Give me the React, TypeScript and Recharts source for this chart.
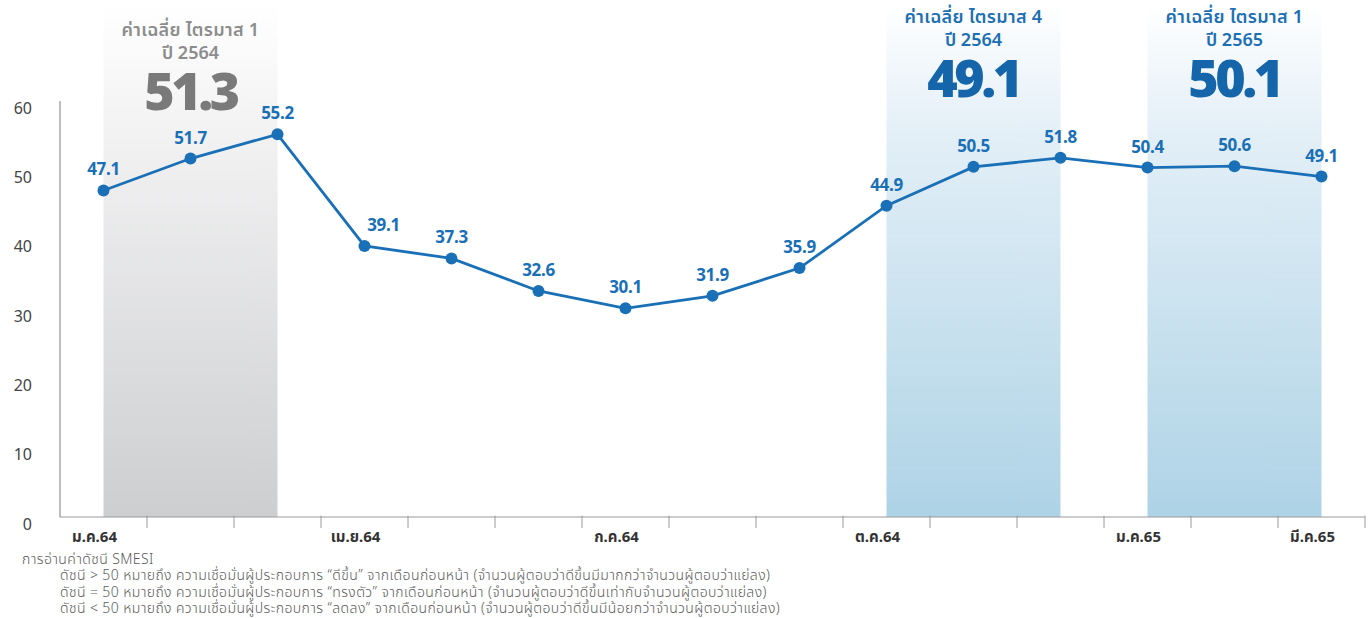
import { LineChart, Line, XAxis, YAxis, ReferenceArea, ReferenceLine, LabelList } from "recharts";

const months = [
  "ม.ค.64", "ก.พ.64", "มี.ค.64", "เม.ย.64", "พ.ค.64", "มิ.ย.64", "ก.ค.64", "ส.ค.64",
  "ก.ย.64", "ต.ค.64", "พ.ย.64", "ธ.ค.64", "ม.ค.65", "ก.พ.65", "มี.ค.65",
];
const smesi = [47.1, 51.7, 55.2, 39.1, 37.3, 32.6, 30.1, 31.9, 35.9, 44.9, 50.5, 51.8, 50.4, 50.6, 49.1];
const shownMonths = ["ม.ค.64", "เม.ย.64", "ก.ค.64", "ต.ค.64", "ม.ค.65", "มี.ค.65"];
const yTicks = [0, 10, 20, 30, 40, 50, 60];

// quarter average boxes
const quarterTitles = ["ค่าเฉลี่ย ไตรมาส 1", "ค่าเฉลี่ย ไตรมาส 4", "ค่าเฉลี่ย ไตรมาส 1"];
const quarterYears = ["ปี 2564", "ปี 2564", "ปี 2565"];
const quarterAverages = ["51.3", "49.1", "50.1"];
const quarterFrom = ["ม.ค.64", "ต.ค.64", "ม.ค.65"];
const quarterTo = ["มี.ค.64", "ธ.ค.64", "มี.ค.65"];

const footTitle = "การอ่านค่าดัชนี SMESI";
const footLines = [
  "ดัชนี > 50 หมายถึง ความเชื่อมั่นผู้ประกอบการ “ดีขึ้น” จากเดือนก่อนหน้า (จำนวนผู้ตอบว่าดีขึ้นมีมากกว่าจำนวนผู้ตอบว่าแย่ลง)",
  "ดัชนี = 50 หมายถึง ความเชื่อมั่นผู้ประกอบการ “ทรงตัว” จากเดือนก่อนหน้า (จำนวนผู้ตอบว่าดีขึ้นเท่ากับจำนวนผู้ตอบว่าแย่ลง)",
  "ดัชนี < 50 หมายถึง ความเชื่อมั่นผู้ประกอบการ “ลดลง” จากเดือนก่อนหน้า (จำนวนผู้ตอบว่าดีขึ้นมีน้อยกว่าจำนวนผู้ตอบว่าแย่ลง)",
];

const data = months.map((m, i) => ({ x: i, month: m, value: smesi[i] }));
const xTicks = shownMonths.map((m) => months.indexOf(m));
// tick marks sit between months
const boundaries = months.map((_, i) => i + 0.5);

const FONT = "'Noto Sans', 'Noto Sans Thai', sans-serif";
const BLUE = "#1a70b6";

const BandLabel = (props: any) => {
  const { viewBox, idx } = props;
  if (!viewBox) return null;
  const cx = viewBox.x + viewBox.width / 2;
  const gray = idx === 0;
  const top = viewBox.y + (gray ? 32 : 19);
  const txt = gray ? "#8c8c8c" : "#1c6fb4";
  const num = gray ? "#7a7a7a" : "#1565aa";
  return (
    <g fontFamily={FONT}>
      <text x={cx} y={top} textAnchor="middle" fontSize={18} fontWeight={600} fill={txt} letterSpacing={0.3}>
        {quarterTitles[idx]}
      </text>
      <text x={cx} y={top + 23} textAnchor="middle" fontSize={18} fontWeight={600} fill={txt}>
        {quarterYears[idx]}
      </text>
      <text x={cx} y={top + 74} textAnchor="middle" fontSize={52} fontWeight={900} fill={num} letterSpacing={-3.5}>
        {quarterAverages[idx]}
      </text>
    </g>
  );
};

// value label; pushed right when the line drops steeply into the point
const ValueLabel = (props: any) => {
  const { x, y, value, index } = props;
  const prev = index > 0 ? smesi[index - 1] : value;
  const dx = prev - value > 10 ? 19 : 0;
  return (
    <text
      x={x + dx}
      y={y - 15}
      textAnchor="middle"
      fill={BLUE}
      fontSize={17}
      fontWeight={700}
      fontFamily={FONT}
      letterSpacing={-0.3}
    >
      {Number(value).toFixed(1)}
    </text>
  );
};

export default function App() {
  return (
    <div style={{ position: "absolute", left: 0, top: 0, width: 1371, height: 618, background: "#fff" }}>
      <LineChart
        width={1371}
        height={552}
        data={data}
        margin={{ top: 101, right: 6, bottom: 0, left: 0 }}
      >
        <defs>
          <linearGradient id="grayBand" x1="0" y1="0" x2="0" y2="1">
            <stop offset="0%" stopColor="#ffffff" />
            <stop offset="25%" stopColor="#f2f2f3" />
            <stop offset="100%" stopColor="#cdced0" />
          </linearGradient>
          <linearGradient id="blueBand" x1="0" y1="0" x2="0" y2="1">
            <stop offset="0%" stopColor="#ffffff" />
            <stop offset="25%" stopColor="#e3eff7" />
            <stop offset="100%" stopColor="#aed3e6" />
          </linearGradient>
        </defs>
        {quarterFrom.map((from, i) => (
          <ReferenceArea
            key={i}
            x1={months.indexOf(from)}
            x2={months.indexOf(quarterTo[i])}
            y1={0}
            y2={74}
            ifOverflow="visible"
            fill={i === 0 ? "url(#grayBand)" : "url(#blueBand)"}
            fillOpacity={1}
            stroke="none"
            label={(p: any) => <BandLabel {...p} idx={i} />}
          />
        ))}
        <XAxis
          type="number"
          dataKey="x"
          domain={[-0.5, 14.5]}
          ticks={xTicks}
          interval={0}
          height={35}
          tickFormatter={(v: number) => months[v]}
          tickLine={false}
          tickMargin={8}
          axisLine={{ stroke: "#9a9a9a" }}
          tick={{ fill: "#333", fontSize: 15, fontWeight: 700, fontFamily: FONT, dx: -9 }}
        />
        <YAxis
          domain={[0, 60]}
          ticks={yTicks}
          width={60}
          tickLine={false}
          tickMargin={22}
          axisLine={{ stroke: "#7a7a7a" }}
          tick={{ fill: "#444", fontSize: 16, fontFamily: FONT, dy: 7 }}
        />
        {boundaries.map((b) => (
          <ReferenceLine
            key={b}
            segment={[{ x: b, y: 0.2 }, { x: b, y: -1.6 }]}
            ifOverflow="visible"
            stroke="#9a9a9a"
            strokeWidth={1}
          />
        ))}
        <Line
          type="linear"
          dataKey="value"
          stroke={BLUE}
          strokeWidth={2.8}
          dot={{ r: 6, fill: BLUE, stroke: "none" }}
          isAnimationActive={false}
        >
          <LabelList dataKey="value" content={<ValueLabel />} />
        </Line>
      </LineChart>
      <div
        style={{
          position: "absolute",
          left: 22,
          top: 551,
          fontFamily: FONT,
          fontSize: 14,
          letterSpacing: 0.4,
          lineHeight: "16.3px",
          color: "#5a5a5a",
          fontWeight: 300,
          whiteSpace: "nowrap",
        }}
      >
        <div>{footTitle}</div>
        {footLines.map((l) => (
          <div key={l} style={{ paddingLeft: 38 }}>
            {l}
          </div>
        ))}
      </div>
    </div>
  );
}
